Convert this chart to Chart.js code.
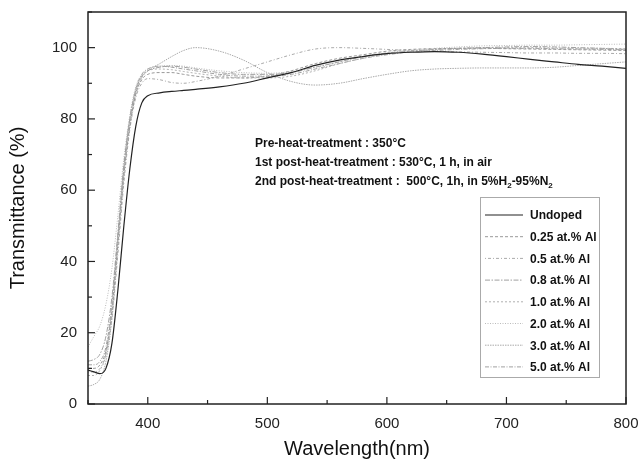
<!DOCTYPE html>
<html>
<head>
<meta charset="utf-8">
<script src="https://cdn.jsdelivr.net/npm/chart.js@4/dist/chart.umd.min.js"></script>
<style>
  html, body { margin: 0; padding: 0; background: #fff; }
  #wrap { width: 640px; height: 461px; }
</style>
</head>
<body>
<div id="wrap"><canvas id="canvas" width="640" height="461"></canvas></div>
<script>
// wavelength (nm) and transmittance (%)
var wavelengths = [350, 355, 360, 365, 370, 375, 380, 385, 390, 395, 400, 410, 420, 430, 440, 460, 480, 500, 520, 540, 560, 580, 600, 620, 640, 660, 680, 700, 720, 740, 760, 780, 800];

var undoped = [9.5, 9, 8.5, 10, 17, 32, 50, 66, 78, 84.5, 86.5, 87.3, 87.7, 88, 88.3, 89, 90, 91.5, 93, 95, 96.5, 97.5, 98.3, 98.7, 98.9, 98.7, 98.2, 97.5, 96.7, 96, 95.3, 94.8, 94.2];
var al025 = [10, 10, 11, 15, 26, 45, 64, 78, 87, 91, 92.5, 93, 93, 92.5, 92, 91.5, 91.5, 92, 93.5, 95.5, 97, 98, 99, 99.5, 99.7, 99.8, 99.8, 99.7, 99.6, 99.5, 99.4, 99.3, 99.2];
var al05 = [9, 9, 10, 14, 24, 42, 62, 77, 86, 90, 91.3, 91, 90.2, 90, 90.5, 92, 94, 96, 98, 99.6, 100, 99.8, 99.5, 99.2, 99, 98.8, 98.7, 98.6, 98.5, 98.5, 98.4, 98.4, 98.3];
var al08 = [12, 12.5, 14, 19, 30, 48, 67, 80, 88, 92, 93.5, 94.5, 94.8, 94.5, 94, 93, 92.5, 92.5, 93, 94.5, 96, 97.5, 98.5, 99, 99.5, 99.8, 100, 100.2, 100.3, 100.2, 100, 99.8, 99.5];
var al10 = [8, 8, 9.5, 14, 27, 47, 66, 80, 88, 92, 93.5, 94, 93.8, 93.3, 92.8, 92, 91.5, 91.5, 92, 93.5, 95.5, 97, 98.3, 99, 99.5, 99.8, 100, 100, 100, 99.9, 99.8, 99.8, 99.7];
var al20 = [16, 19, 22, 28, 38, 53, 69, 81, 89, 92.5, 94, 94.8, 95, 94.8, 94.3, 93.5, 93, 92.8, 93.3, 94.5, 96, 97.5, 98.5, 99.3, 99.8, 100.2, 100.5, 100.6, 100.7, 100.7, 100.8, 100.9, 101];
var al30 = [5, 5.5, 7, 12, 24, 44, 64, 78, 87, 91.5, 93.5, 95.5, 97.5, 99.2, 100, 99, 96.5, 93, 90.5, 89.5, 90, 91.3, 92.5, 93.5, 94, 94.2, 94.3, 94.3, 94.3, 94.5, 95, 95.5, 96];
var al50 = [11, 11, 12, 16, 28, 47, 66, 80, 88.5, 92.5, 94, 94.8, 94.5, 94, 93.5, 92.5, 92, 92, 92.5, 94, 95.5, 97, 98, 98.8, 99.2, 99.5, 99.7, 99.8, 99.8, 99.7, 99.6, 99.5, 99.4];

var seriesLabels = ['Undoped', '0.25 at.% Al', '0.5 at.% Al', '0.8 at.% Al', '1.0 at.% Al', '2.0 at.% Al', '3.0 at.% Al', '5.0 at.% Al'];
var seriesValues = [undoped, al025, al05, al08, al10, al20, al30, al50];
var seriesColors = ['#222', '#999', '#aaa', '#a0a0a0', '#b0b0b0', '#bbb', '#aaa', '#a0a0a0'];
var seriesDash = [[], [3, 2], [1, 2, 3, 2], [5, 1.5, 1.5, 1.5], [2, 2], [1, 1.5], [1.5, 1], [4, 1.5, 1, 1.5]];

var FONT = '"Liberation Sans", Arial, sans-serif';

function toPoints(values) {
    return values.map(function (v, i) { return {x: wavelengths[i], y: v}; });
}

var datasets = seriesValues.map(function (values, i) {
    return {
        label: seriesLabels[i],
        data: toPoints(values),
        borderColor: seriesColors[i],
        borderDash: seriesDash[i],
        borderWidth: i === 0 ? 1.2 : 1,
        pointRadius: 0,
        fill: false,
        cubicInterpolationMode: 'monotone'
    };
});

// inward ticks + frame around plot
var framePlugin = {
    id: 'frame',
    afterDraw: function (chart) {
        var ctx = chart.ctx, a = chart.chartArea;
        var xs = chart.scales.x, ys = chart.scales.y;
        ctx.save();
        ctx.strokeStyle = '#222';
        ctx.lineWidth = 1.5;
        ctx.strokeRect(a.left, a.top, a.right - a.left, a.bottom - a.top);
        ctx.lineWidth = 1.2;
        xs.ticks.forEach(function (t) {
            var px = xs.getPixelForValue(t.value);
            var len = t.value % 100 === 0 ? 7 : 4;
            ctx.beginPath();
            ctx.moveTo(px, a.bottom);
            ctx.lineTo(px, a.bottom - len);
            ctx.stroke();
        });
        ys.ticks.forEach(function (t) {
            var py = ys.getPixelForValue(t.value);
            var len = t.value % 20 === 0 ? 7 : 4;
            ctx.beginPath();
            ctx.moveTo(a.left, py);
            ctx.lineTo(a.left + len, py);
            ctx.stroke();
        });
        ctx.restore();
    }
};

// boxed legend inside the plot + treatment notes
var notesPlugin = {
    id: 'notes',
    afterDraw: function (chart) {
        var ctx = chart.ctx, a = chart.chartArea;
        ctx.save();

        // notes
        var nx = a.left + 167, ny = a.top + 135;
        ctx.fillStyle = '#111';
        ctx.textBaseline = 'alphabetic';
        ctx.font = 'bold 12px ' + FONT;
        ctx.fillText('Pre-heat-treatment : 350\u00B0C', nx, ny);
        ctx.fillText('1st post-heat-treatment : 530\u00B0C, 1 h, in air', nx, ny + 19);
        var parts = [['2nd post-heat-treatment :  500\u00B0C, 1h, in 5%H', 0], ['2', 1], ['-95%N', 0], ['2', 1]];
        var cx = nx;
        parts.forEach(function (p) {
            ctx.font = (p[1] ? 'bold 8px ' : 'bold 12px ') + FONT;
            ctx.fillText(p[0], cx, ny + 38 + (p[1] ? 3 : 0));
            cx += ctx.measureText(p[0]).width;
        });

        // legend
        var lx = a.right - 146, ly = a.top + 185, lw = 119, lh = 180;
        ctx.fillStyle = '#fff';
        ctx.fillRect(lx, ly, lw, lh);
        ctx.strokeStyle = '#aaa';
        ctx.lineWidth = 1;
        ctx.strokeRect(lx + 0.5, ly + 0.5, lw, lh);
        ctx.font = 'bold 12px ' + FONT;
        ctx.textBaseline = 'middle';
        chart.data.datasets.forEach(function (ds, i) {
            var yy = ly + 18 + i * 21.7;
            ctx.strokeStyle = ds.borderColor;
            ctx.lineWidth = ds.borderWidth;
            ctx.setLineDash(ds.borderDash);
            ctx.beginPath();
            ctx.moveTo(lx + 5, yy);
            ctx.lineTo(lx + 43, yy);
            ctx.stroke();
            ctx.setLineDash([]);
            ctx.fillStyle = '#111';
            ctx.fillText(ds.label, lx + 50, yy + 1);
        });
        ctx.restore();
    }
};

var chart = new Chart(document.getElementById('canvas').getContext('2d'), {
    type: 'line',
    data: {datasets: datasets},
    options: {
        responsive: false,
        animation: false,
        layout: {padding: {top: 12, right: 14, left: 0, bottom: 0}},
        plugins: {
            legend: {display: false},
            tooltip: {enabled: false}
        },
        scales: {
            x: {
                type: 'linear',
                min: 350,
                max: 800,
                grid: {display: false},
                border: {display: false},
                ticks: {
                    stepSize: 50,
                    autoSkip: false,
                    maxRotation: 0,
                    padding: 3,
                    color: '#222',
                    font: {family: FONT, size: 15},
                    callback: function (v) { return v % 100 === 0 ? v : ''; }
                },
                title: {
                    display: true,
                    text: 'Wavelength(nm)',
                    color: '#111',
                    font: {family: FONT, size: 20},
                    padding: {top: 0, bottom: 0}
                },
                afterFit: function (s) {
                    s.height = 57;
                    s.paddingLeft = 0;
                    s.paddingRight = 0;
                }
            },
            y: {
                min: 0,
                max: 110,
                grid: {display: false},
                border: {display: false},
                ticks: {
                    stepSize: 10,
                    autoSkip: false,
                    padding: 3,
                    color: '#222',
                    font: {family: FONT, size: 15},
                    callback: function (v) { return (v % 20 === 0 && v <= 100) ? v : ''; }
                },
                title: {
                    display: true,
                    text: 'Transmittance (%)',
                    color: '#111',
                    font: {family: FONT, size: 20},
                    padding: {top: 6, bottom: 0}
                },
                afterFit: function (s) {
                    s.width = 88;
                    s.paddingTop = 0;
                    s.paddingBottom = 0;
                }
            }
        }
    },
    plugins: [framePlugin, notesPlugin]
});
</script>
</body>
</html>
